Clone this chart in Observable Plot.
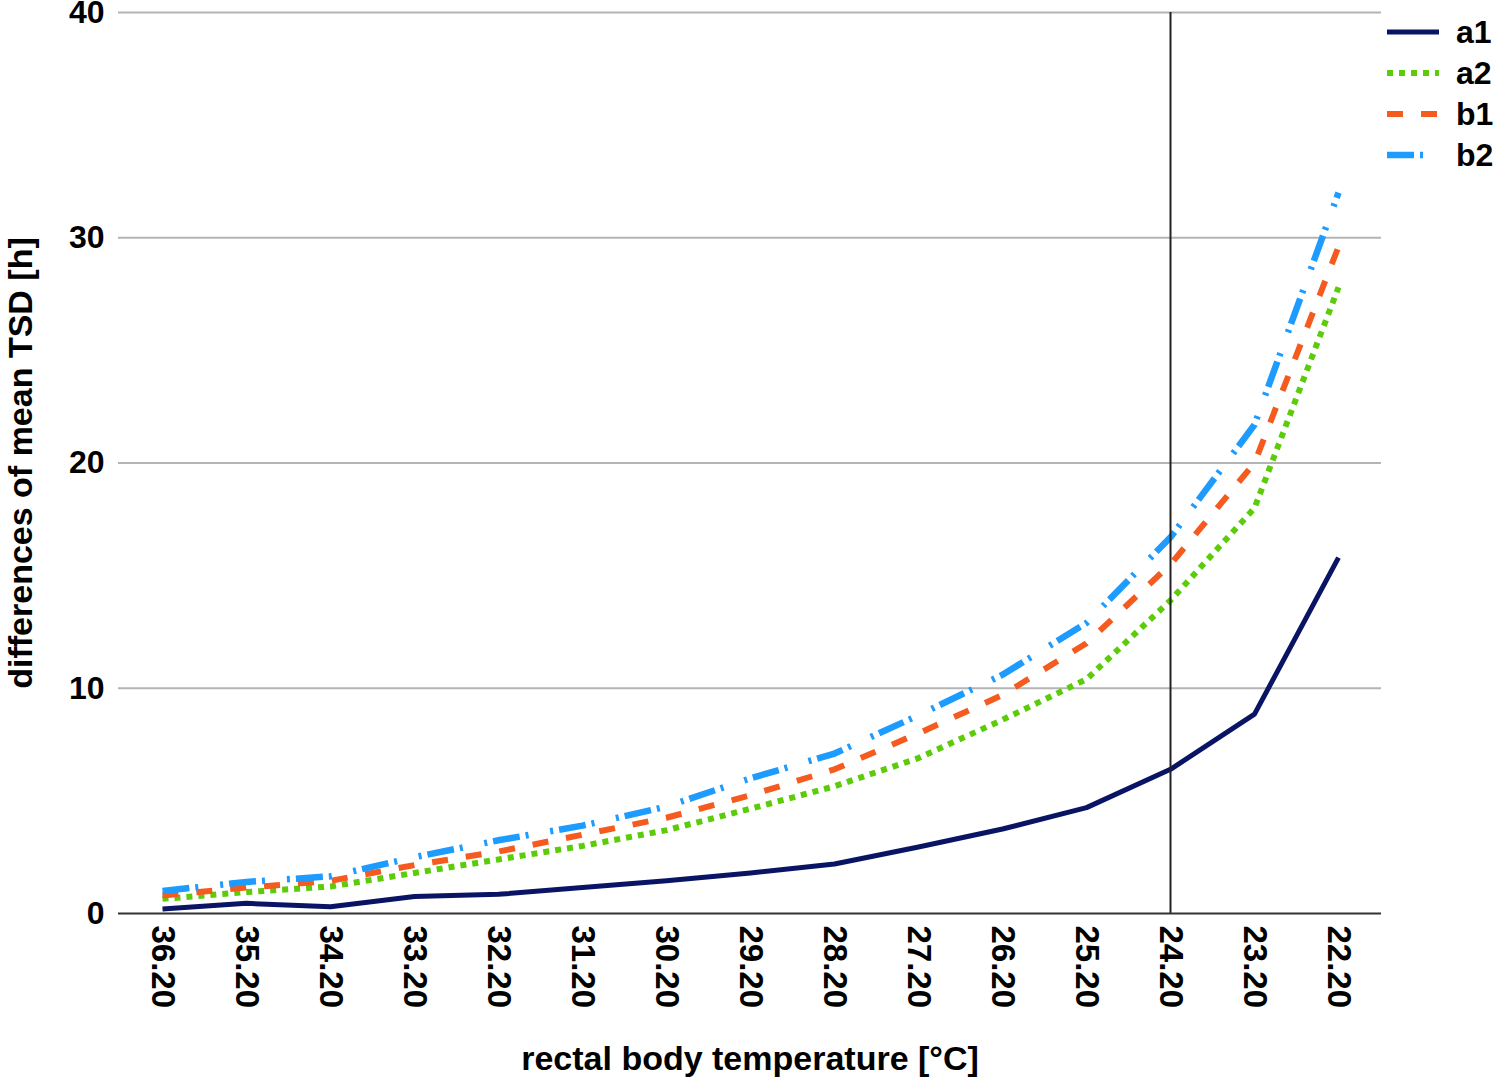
<!DOCTYPE html>
<html>
<head>
<meta charset="utf-8">
<script src="https://cdn.jsdelivr.net/npm/d3@7"></script>
<script src="https://cdn.jsdelivr.net/npm/@observablehq/plot@0.6"></script>
<style>
  html, body { margin: 0; padding: 0; background: #fff; }
  #wrap { position: relative; width: 1499px; height: 1082px; font-family: "Liberation Sans", Arial, sans-serif; }
  #legend { position: absolute; left: 1386px; top: 11px; }
  .lrow { display: flex; align-items: center; height: 41px; }
  .lrow span { font-size: 32px; font-weight: bold; color: #000; margin-left: 16px; line-height: 1; }
</style>
</head>
<body>
<div id="wrap"><div id="legend"></div></div>
<script>
const categories = ["36.20","35.20","34.20","33.20","32.20","31.20","30.20","29.20","28.20","27.20","26.20","25.20","24.20","23.20","22.20"];
const a1 = [0.2, 0.45, 0.3, 0.75, 0.85, 1.15, 1.45, 1.8, 2.2, 2.95, 3.75, 4.7, 6.4, 8.85, 15.8];
const a2 = [0.65, 0.95, 1.2, 1.8, 2.4, 3.0, 3.7, 4.65, 5.65, 6.9, 8.6, 10.4, 13.9, 18.0, 27.8];
const b1 = [0.8, 1.15, 1.45, 2.15, 2.75, 3.5, 4.25, 5.25, 6.4, 8.0, 9.7, 12.0, 15.5, 20.0, 29.6];
const b2 = [1.0, 1.4, 1.65, 2.5, 3.25, 3.9, 4.75, 6.0, 7.1, 8.8, 10.6, 12.9, 16.7, 21.7, 32.0];
const seriesNames = ["a1", "a2", "b1", "b2"];
const seriesValues = [a1, a2, b1, b2];
const yTicks = [0, 10, 20, 30, 40];
const gridTicks = [10, 20, 30, 40];
const referenceTemp = ["24.20"];

const styles = {
  a1: {stroke: "#0a1464", strokeWidth: 5, dash: null},
  a2: {stroke: "#5ccc0a", strokeWidth: 6, dash: "6,6"},
  b1: {stroke: "#f55a1e", strokeWidth: 6, dash: "16,18"},
  b2: {stroke: "#1e9bff", strokeWidth: 6.5, dash: "27,6,3,22,3,6"}
};

const rows = [];
seriesNames.forEach((s, i) => categories.forEach((c, j) => rows.push({series: s, temp: c, value: seriesValues[i][j]})));

const font = "'Liberation Sans', Arial, sans-serif";

const lineMarks = seriesNames.map(s => Plot.line(rows.filter(r => r.series === s), {
  x: "temp", y: "value",
  stroke: styles[s].stroke, strokeWidth: styles[s].strokeWidth,
  strokeDasharray: styles[s].dash, strokeLinecap: "butt", strokeLinejoin: "round"
}));

const chart = Plot.plot({
  width: 1499,
  height: 1082,
  marginLeft: 118,
  marginRight: 118,
  marginTop: 12,
  marginBottom: 169,
  style: {fontFamily: font, background: "#fff", color: "#000", fontWeight: "bold"},
  x: {type: "point", domain: categories, padding: 0.5},
  y: {domain: [0, 40]},
  marks: [
    Plot.ruleY(gridTicks, {stroke: "#b4b4b4", strokeWidth: 2}),
    Plot.ruleX([0], {frameAnchor: "left", stroke: "#999", strokeWidth: 2}),
    Plot.axisY(yTicks, {tickSize: 0, tickPadding: 14, fontSize: 32, label: "differences of mean TSD [h]", labelAnchor: "center", labelArrow: "none", labelOffset: 111}),
    Plot.axisX({tickSize: 0, tickPadding: 12, tickRotate: 90, fontSize: 33, label: "rectal body temperature [°C]", labelAnchor: "center", labelArrow: "none", labelOffset: 156}),
    ...lineMarks,
    Plot.ruleX(referenceTemp, {stroke: "#222", strokeWidth: 2}),
    Plot.ruleY([0], {stroke: "#333", strokeWidth: 2})
  ]
});
chart.querySelectorAll("[aria-label='y-axis label'] text, [aria-label='x-axis label'] text").forEach(t => t.setAttribute("font-size", "34"));
document.getElementById("wrap").prepend(chart);
chart.style.position = "absolute"; chart.style.left = "0"; chart.style.top = "0";

const legend = document.getElementById("legend");
seriesNames.forEach(s => {
  const row = document.createElement("div");
  row.className = "lrow";
  const st = styles[s];
  row.innerHTML = `<svg width="54" height="10"><line x1="1" y1="5" x2="53" y2="5" stroke="${st.stroke}" stroke-width="${st.strokeWidth}" ${st.dash ? `stroke-dasharray="${st.dash}"` : ""}/></svg><span>${s}</span>`;
  legend.appendChild(row);
});
</script>
</body>
</html>
